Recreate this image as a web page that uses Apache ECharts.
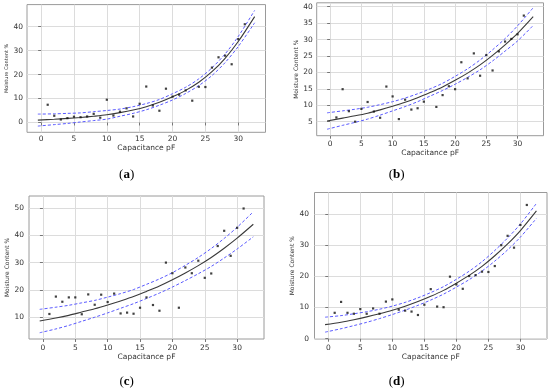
<!DOCTYPE html>
<html><head><meta charset="utf-8">
<script src="https://cdn.jsdelivr.net/npm/echarts@6/dist/echarts.min.js"></script>
<style>html,body{margin:0;padding:0;background:#fff}#c{width:550px;height:392px}</style>
</head><body><div id="c"></div>
<script>
// ---- tick labels ----
const xTicks = [0, 5, 10, 15, 20, 25, 30];
const yTicksA = [0, 10, 20, 30, 40];
const yTicksB = [5, 10, 15, 20, 25, 30, 35, 40];
const yTicksC = [10, 20, 30, 40, 50];
const yTicksD = [0, 10, 20, 30, 40];
const captions = ['a', 'b', 'c', 'd'];
const xTitle = 'Capacitance pF';
const yTitle = 'Moisture Content %';

// ---- curve sample positions (capacitance, pF) ----
const curveX = [-0.5, 2, 4, 6, 8, 10, 12, 14, 16, 18, 20, 22, 24, 26, 28, 30, 32.5];

// ---- panel (a) ----
const ptsXA = [1,2,3,4,5,6,7,8,9,10,11,12,13,14,15,16,17,18,19,20,21,22,23,24,25,26,27,28,29,30,31];
const ptsYA = [7.4,2.8,1.25,1.8,2.4,2.2,2.5,3.6,2.0,9.5,2.9,4.5,5.9,2.5,7.8,15.0,7.1,4.9,14.1,10.8,11.6,13.4,9.1,14.9,14.8,22.9,27.2,27.9,24.3,34.8,41.0];
const fitA   = [1.0,1.35,1.7,2.1,2.6,3.2,4.1,5.2,6.6,8.4,10.7,13.4,16.8,21.2,26.8,33.8,44.2];
const upperA = [3.5,3.6,3.8,4.0,4.5,5.0,5.6,6.6,7.9,9.6,12.0,14.7,18.2,22.8,28.6,35.9,46.8];
const lowerA = [-1.5,-0.9,-0.4,0.2,0.8,1.4,2.6,3.8,5.3,7.2,9.4,12.1,15.4,19.6,25.0,31.7,41.6];

// ---- panel (b) ----
const ptsXB = [1,2,3,4,5,6,7,8,9,10,11,12,13,14,15,17,18,19,20,21,22,23,24,25,26,27,28,29,30,31];
const ptsYB = [6.3,14.9,8.2,5.0,8.9,11.0,8.1,6.2,15.7,12.7,5.8,11.7,8.7,9.1,11.1,9.5,13.1,15.8,14.9,23.1,18.2,25.8,19.0,25.3,20.6,26.4,29.4,30.2,31.6,37.3];
const fitB   = [5.2,6.1,6.8,7.6,8.6,9.7,10.9,12.3,13.9,15.6,17.6,19.8,22.3,25.2,28.4,31.9,37.0];
const upperB = [7.7,8.3,8.8,9.4,10.2,11.1,12.2,13.5,15.0,16.7,18.8,21.1,23.8,26.9,30.3,34.2,39.7];
const lowerB = [2.7,3.9,4.8,5.8,7.0,8.3,9.6,11.1,12.8,14.5,16.4,18.5,20.8,23.5,26.5,29.6,34.3];

// ---- panel (c) ----
const ptsXC = [1,2,3,4,5,6,7,8,9,10,11,12,13,14,15,16,17,18,19,20,21,22,23,24,25,26,27,28,29,30,31];
const ptsYC = [11.1,17.5,15.6,17.2,17.2,11.0,18.3,14.5,18.2,15.5,18.6,11.3,11.6,11.2,13.4,17.2,14.4,12.3,30.0,26.1,13.4,28.2,26.1,30.7,24.4,26.0,36.1,41.7,32.5,42.8,49.9];
const fitC   = [8.5,9.6,10.6,11.8,13.0,14.4,15.9,17.5,19.4,21.4,23.7,26.2,28.9,31.9,35.3,39.0,44.1];
const upperC = [12.8,13.6,14.3,15.2,16.1,17.3,18.6,20.1,22.0,24.0,26.3,29.0,31.9,35.2,38.9,43.0,48.7];
const lowerC = [4.2,5.6,6.9,8.4,9.9,11.5,13.2,14.9,16.8,18.8,21.0,23.4,25.9,28.6,31.7,35.0,39.5];

// ---- panel (d) ----
const ptsXD = [1,2,3,4,5,6,7,8,9,10,11,12,13,14,15,16,17,18,19,20,21,22,23,24,25,26,27,28,29,30,31];
const ptsYD = [8.3,11.8,8.3,8.0,9.5,8.0,9.7,8.0,11.9,12.6,9.3,9.0,8.7,7.6,10.9,15.9,10.3,10.1,19.9,17.4,16.0,20.1,20.4,21.5,21.4,23.3,30.0,33.0,29.2,36.5,42.9];
const fitD   = [4.5,5.3,6.1,7.0,8.0,9.1,10.4,11.9,13.6,15.5,17.8,20.3,23.2,26.6,30.4,34.7,41.0];
const upperD = [6.9,7.4,8.0,8.65,9.45,10.45,11.65,13.1,14.8,16.7,19.05,21.65,24.7,28.3,32.3,36.8,43.4];
const lowerD = [2.1,3.2,4.2,5.25,6.45,7.75,9.15,10.7,12.4,14.3,16.55,18.95,21.7,24.9,28.5,32.6,38.6];

// ---- layout ----
const panels = [
  {grid:{left:27, top:4.6, width:238.5, height:127.7}, ymin:-4.1, ymax:49.2, yt:yTicksA, px:ptsXA, py:ptsYA, fit:fitA, up:upperA, lo:lowerA, xm:2.5, ym:4, xg:10, yg:18, yfs:5, cap:[126.7,174.5]},
  {grid:{left:316.7, top:2.8, width:226.8, height:132.9}, ymin:0.74, ymax:41.2, yt:yTicksB, px:ptsXB, py:ptsYB, fit:fitB, up:upperB, lo:lowerB, xm:4, ym:4, xg:11.5, yg:16.5, yfs:6, cap:[396.7,174.5]},
  {grid:{left:29, top:196, width:235, height:143}, ymin:1.9, ymax:54.5, yt:yTicksC, px:ptsXC, py:ptsYC, fit:fitC, up:upperC, lo:lowerC, xm:5, ym:5, xg:12, yg:18.5, yfs:6, cap:[126.7,381.7]},
  {grid:{left:314.5, top:192.5, width:232.5, height:146.5}, ymin:-0.1, ymax:46.9, yt:yTicksD, px:ptsXD, py:ptsYD, fit:fitD, up:upperD, lo:lowerD, xm:5, ym:5.5, xg:13.5, yg:16.5, yfs:6, cap:[396.7,381.7]}
];

const FONT = 'DejaVu Sans';
const zip = (a, b) => a.map((v, i) => [v, b[i]]);
const grids = [], xAxes = [], yAxes = [], series = [], graphics = [];
panels.forEach((p, i) => {
  grids.push(Object.assign({show:true, borderColor:'#9a9a9a', borderWidth:1, backgroundColor:'#fff'}, p.grid));
  xAxes.push({
    type:'value', gridIndex:i, min:-2.15, max:34.15,
    name:xTitle, nameLocation:'middle', nameGap:p.xg,
    nameTextStyle:{fontFamily:FONT, fontSize:7.5, color:'#333'},
    axisLine:{show:false},
    axisTick:{show:true, customValues:xTicks, length:3, lineStyle:{color:'#777'}},
    axisLabel:{customValues:xTicks, margin:p.xm, fontFamily:FONT, fontSize:7.5, color:'#333'},
    splitLine:{show:true, lineStyle:{color:'#dcdcdc', width:1}}
  });
  yAxes.push({
    type:'value', gridIndex:i, min:p.ymin, max:p.ymax,
    name:yTitle, nameLocation:'middle', nameGap:p.yg,
    nameTextStyle:{fontFamily:FONT, fontSize:p.yfs, color:'#333'},
    axisLine:{show:false},
    axisTick:{show:true, customValues:p.yt, length:3, lineStyle:{color:'#777'}},
    axisLabel:{customValues:p.yt, margin:p.ym, fontFamily:FONT, fontSize:7.5, color:'#333'},
    splitLine:{show:true, lineStyle:{color:'#dcdcdc', width:1}}
  });
  const common = {xAxisIndex:i, yAxisIndex:i, type:'line', showSymbol:false, smooth:0.3, silent:true};
  series.push(Object.assign({}, common, {data:zip(curveX, p.up), lineStyle:{color:'#5a5aff', width:1, type:[3,2]}}));
  series.push(Object.assign({}, common, {data:zip(curveX, p.lo), lineStyle:{color:'#5a5aff', width:1, type:[3,2]}}));
  series.push(Object.assign({}, common, {data:zip(curveX, p.fit), lineStyle:{color:'#3a3a3a', width:1.1}}));
  series.push({type:'scatter', xAxisIndex:i, yAxisIndex:i, data:zip(p.px, p.py), symbol:'rect', symbolSize:2.2, itemStyle:{color:'#111'}, z:5});
  graphics.push({
    type:'text', x:p.cap[0], y:p.cap[1],
    style:{text:'{p|(}{b|' + captions[i] + '}{p|)}', align:'center', verticalAlign:'middle',
      rich:{p:{fontFamily:'Liberation Serif', fontSize:13, fill:'#000', color:'#000'},
            b:{fontFamily:'Liberation Serif', fontSize:13, fontWeight:'bold', fill:'#000', color:'#000'}}}
  });
});

const chart = echarts.init(document.getElementById('c'), null, {renderer:'canvas'});
chart.setOption({animation:false, backgroundColor:'#fff', grid:grids, xAxis:xAxes, yAxis:yAxes, series:series, graphic:graphics});
</script>
</body></html>
